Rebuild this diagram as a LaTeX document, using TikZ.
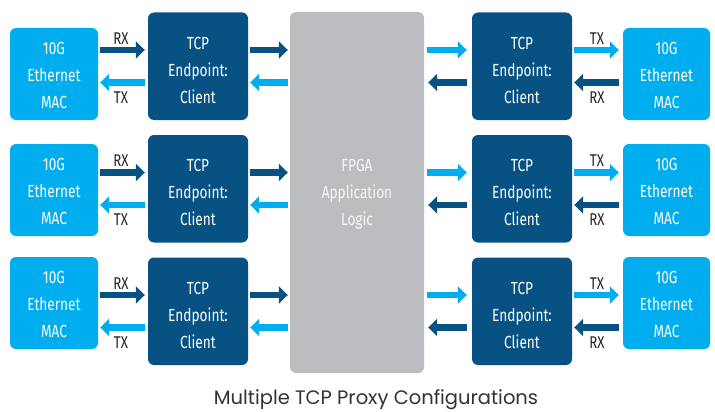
\documentclass[tikz,border=0pt]{standalone}
\usepackage{fontspec}
\setmainfont{Fira Sans}
\newfontfamily\condfont[FakeStretch=0.78]{Fira Sans}
\newfontfamily\capfont{Poppins}
\usetikzlibrary{arrows.meta}
\definecolor{dkblue}{RGB}{8,82,131}
\definecolor{ltblue}{RGB}{0,174,239}
\definecolor{fpgagray}{RGB}{188,189,192}
\definecolor{lbltext}{RGB}{35,35,35}
\definecolor{captext}{RGB}{51,51,51}
\tikzset{
  boxtext/.style={inner sep=0pt, align=center, text=white,
    font=\condfont\fontsize{17.5}{27}\selectfont},
  boxbase/.style={rounded corners=6pt, inner sep=0pt},
  macbox/.style={boxbase, fill=ltblue, minimum width=88pt, minimum height=92pt},
  tcpbox/.style={boxbase, fill=dkblue, minimum width=100pt, minimum height=107.5pt},
  fpgabox/.style={boxbase, fill=fpgagray, minimum width=134pt, minimum height=361pt},
  arrbase/.style={line width=6.5pt, -{Triangle[width=17pt,length=9pt]}},
  darr/.style={arrbase, draw=dkblue},
  larr/.style={arrbase, draw=ltblue},
  lbl/.style={text=lbltext, font=\condfont\fontsize{17}{17}\selectfont, inner sep=0pt},
}
\begin{document}
\begin{tikzpicture}[x=1pt,y=-1pt]
\useasboundingbox (0,0) rectangle (715,412);
% FPGA
\node[fpgabox, label={[boxtext, text=white!94!gray, yshift=-2pt]center:FPGA\\Application\\Logic}] (fpga) at (357,192.5) {};
% rows
\foreach \i/\T/\M in {1/12.5/74, 2/135/190, 3/257.5/303}{
  \node[macbox, label={[boxtext, yshift=-1pt]center:10G\\Ethernet\\MAC}] (macL\i) at (54,\M) {};
  \node[tcpbox, label={[boxtext, yshift=-4pt]center:TCP\\Endpoint:\\Client}] (tcpL\i) at (198,\T+53.75) {};
  \node[tcpbox, label={[boxtext, yshift=-4pt]center:TCP\\Endpoint:\\Client}] (tcpR\i) at (522,\T+53.75) {};
  \node[macbox, minimum width=87pt, label={[boxtext, yshift=-1pt]center:10G\\Ethernet\\MAC}] (macR\i) at (666.5,\M) {};
  \coordinate (ya\i) at (0,\T+37.5);
  \coordinate (yb\i) at (0,\T+70);
  % left MAC <-> TCP
  \draw[darr, shorten <=2pt, shorten >=3pt] (macL\i.east |- ya\i) -- (tcpL\i.west |- ya\i);
  \draw[larr, shorten <=3pt, shorten >=2pt] (tcpL\i.west |- yb\i) -- (macL\i.east |- yb\i);
  \node[lbl] (rxL\i) at (121,\T+26) {RX};
  \node[lbl] (txL\i) at (121,\T+85) {TX};
  % left TCP <-> FPGA
  \draw[darr, shorten <=2pt, shorten >=2pt] (tcpL\i.east |- ya\i) -- (fpga.west |- ya\i);
  \draw[larr, shorten <=2pt, shorten >=2pt] (fpga.west |- yb\i) -- (tcpL\i.east |- yb\i);
  % FPGA <-> right TCP
  \draw[larr, shorten <=3pt, shorten >=5pt] (fpga.east |- ya\i) -- (tcpR\i.west |- ya\i);
  \draw[darr, shorten <=5pt, shorten >=4pt] (tcpR\i.west |- yb\i) -- (fpga.east |- yb\i);
  % right TCP <-> MAC
  \draw[larr, shorten <=2pt, shorten >=4pt] (tcpR\i.east |- ya\i) -- (macR\i.west |- ya\i);
  \draw[darr, shorten <=4pt, shorten >=2pt] (macR\i.west |- yb\i) -- (tcpR\i.east |- yb\i);
  \node[lbl] (txR\i) at (597,\T+26) {TX};
  \node[lbl] (rxR\i) at (597,\T+85) {RX};
}
\node[text=captext, font=\capfont\fontsize{19.5}{19.5}\selectfont, inner sep=0pt] (cap) at (376,400) {Multiple TCP Proxy Configurations};
\end{tikzpicture}
\end{document}
